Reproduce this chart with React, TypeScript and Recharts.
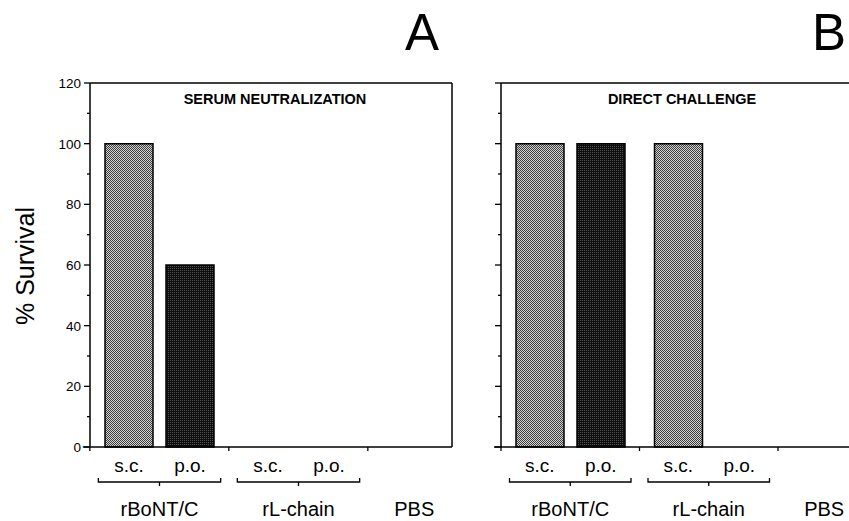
import React from 'react';
import { BarChart, Bar, XAxis, YAxis, ReferenceLine } from 'recharts';

const groups = ['rBoNT/C', 'rL-chain', 'PBS'];
const groupHasRoutes = [true, true, false];
const routeLabels = ['s.c.', 'p.o.'];
const neutralizationSC = [100, 0, 0];
const neutralizationPO = [60, 0, 0];
const challengeSC = [100, 100, 0];
const challengePO = [100, 0, 0];
const yTicks = [0, 10, 20, 30, 40, 50, 60, 70, 80, 90, 100, 110, 120];
const panelTitles = ['SERUM NEUTRALIZATION', 'DIRECT CHALLENGE'];
const panelLetters = ['A', 'B'];
const yAxisTitle = '% Survival';

const FONT = '"Liberation Sans", Arial, Helvetica, sans-serif';
const BAR_SIZE = 48;
const BAR_GAP = 13;

const buildData = (sc: number[], po: number[]) =>
  groups.map((g, i) => ({ group: g, sc: sc[i], po: po[i] }));

const dataA = buildData(neutralizationSC, neutralizationPO);
const dataB = buildData(challengeSC, challengePO);

const YTick = (props: any) => {
  const { x, y, payload, showLabel } = props;
  const v = payload.value;
  const major = v % 20 === 0;
  return (
    <g>
      <line x1={x - (major ? 6 : 3)} x2={x} y1={y} y2={y} stroke="#000" strokeWidth={1.3} />
      {showLabel && major && (
        <text x={x - 9} y={y} dy="0.36em" textAnchor="end" fontSize={13.5} fontFamily={FONT} fill="#000">
          {v}
        </text>
      )}
    </g>
  );
};

const XTick = (props: any) => {
  const { x, y, payload, band } = props;
  const idx = groups.indexOf(payload.value);
  const start = x - band / 2;
  const hasRoutes = groupHasRoutes[idx];
  const off = (BAR_SIZE + BAR_GAP) / 2;
  const half = band / 2 - 8.5;
  const labelX = hasRoutes ? x : start + band / 3;
  return (
    <g fontFamily={FONT} fill="#000">
      <line x1={start} x2={start} y1={y} y2={y + 4} stroke="#000" strokeWidth={1.3} />
      {idx === 0 && <line x1={start - 7} x2={start} y1={y} y2={y} stroke="#000" strokeWidth={1.5} />}
      {hasRoutes && (
        <g>
          <text x={x - off} y={y + 25} textAnchor="middle" fontSize={19}>{routeLabels[0]}</text>
          <text x={x + off} y={y + 25} textAnchor="middle" fontSize={19}>{routeLabels[1]}</text>
          <path
            d={`M${x - half},${y + 31} V${y + 35} H${x + half} V${y + 31} M${x},${y + 35} V${y + 39}`}
            stroke="#000"
            strokeWidth={1.3}
            fill="none"
          />
        </g>
      )}
      <text x={labelX} y={y + 69} textAnchor="middle" fontSize={20}>{payload.value}</text>
    </g>
  );
};

const Patterns = ({ suffix }: { suffix: string }) => (
  <defs>
    <pattern id={`light${suffix}`} width="2" height="2" patternUnits="userSpaceOnUse">
      <rect width="2" height="2" fill="#d4d4d4" />
      <rect width="1" height="1" fill="#3c3c3c" />
      <rect x="1" y="1" width="1" height="1" fill="#3c3c3c" />
    </pattern>
    <pattern id={`dark${suffix}`} width="2" height="2" patternUnits="userSpaceOnUse">
      <rect width="2" height="2" fill="#0e0e0e" />
      <rect width="1" height="1" fill="#505050" />
    </pattern>
  </defs>
);

type PanelProps = {
  data: any[];
  width: number;
  yAxisWidth: number;
  marginRight: number;
  padRight: number;
  showYLabels: boolean;
  rightBorder: boolean;
  suffix: string;
};

const Panel = ({ data, width, yAxisWidth, marginRight, padRight, showYLabels, rightBorder, suffix }: PanelProps) => {
  const plotWidth = width - yAxisWidth - marginRight;
  const band = (plotWidth - padRight) / groups.length;
  return (
    <BarChart
      width={width}
      height={521}
      data={data}
      margin={{ top: 83, right: marginRight, bottom: 0, left: 0 }}
      barSize={BAR_SIZE}
      barGap={BAR_GAP}
    >
      <Patterns suffix={suffix} />
      <XAxis
        dataKey="group"
        height={74}
        interval={0}
        padding={{ left: 0, right: padRight }}
        axisLine={{ stroke: '#000', strokeWidth: 1.5 }}
        tickLine={false}
        tickSize={0}
        tickMargin={0}
        tick={(p: any) => <XTick {...p} band={band} />}
      />
      <YAxis
        width={yAxisWidth}
        domain={[0, 120]}
        ticks={yTicks}
        interval={0}
        axisLine={{ stroke: '#000', strokeWidth: 1.5 }}
        tickLine={false}
        tickSize={0}
        tickMargin={0}
        tick={(p: any) => <YTick {...p} showLabel={showYLabels} />}
      />
      {rightBorder && (
        <YAxis
          yAxisId="frame"
          orientation="right"
          width={1}
          domain={[0, 120]}
          tick={false}
          tickLine={false}
          axisLine={{ stroke: '#000', strokeWidth: 1.5 }}
        />
      )}
      <ReferenceLine y={120} stroke="#000" strokeWidth={1.5} />
      <Bar dataKey="sc" fill={`url(#light${suffix})`} stroke="#000" strokeWidth={1.5} isAnimationActive={false} />
      <Bar dataKey="po" fill={`url(#dark${suffix})`} stroke="#000" strokeWidth={1.5} isAnimationActive={false} />
    </BarChart>
  );
};

export default function App() {
  return (
    <div style={{ position: 'absolute', left: 0, top: 0, width: 849, height: 521, background: '#fff', overflow: 'hidden' }}>
      <div style={{ position: 'absolute', left: 0, top: 0 }}>
        <Panel
          data={dataA}
          width={460}
          yAxisWidth={90}
          marginRight={7}
          padRight={-55}
          showYLabels={true}
          rightBorder={true}
          suffix="A"
        />
      </div>
      <div style={{ position: 'absolute', left: 460, top: 0 }}>
        <Panel
          data={dataB}
          width={389}
          yAxisWidth={41}
          marginRight={0}
          padRight={-67.5}
          showYLabels={false}
          rightBorder={false}
          suffix="B"
        />
      </div>
      <svg width={849} height={521} style={{ position: 'absolute', left: 0, top: 0, pointerEvents: 'none' }}>
        <g fontFamily={FONT} fill="#000">
          <text x={422} y={50} textAnchor="middle" fontSize={51}>{panelLetters[0]}</text>
          <text x={829} y={50} textAnchor="middle" fontSize={51}>{panelLetters[1]}</text>
          <text x={275} y={104} textAnchor="middle" fontSize={14.5} fontWeight="bold">{panelTitles[0]}</text>
          <text x={682} y={104} textAnchor="middle" fontSize={14.5} fontWeight="bold">{panelTitles[1]}</text>
          <text
            x={0}
            y={0}
            transform="translate(34,266) rotate(-90)"
            textAnchor="middle"
            fontSize={25}
          >
            {yAxisTitle}
          </text>
        </g>
      </svg>
    </div>
  );
}
